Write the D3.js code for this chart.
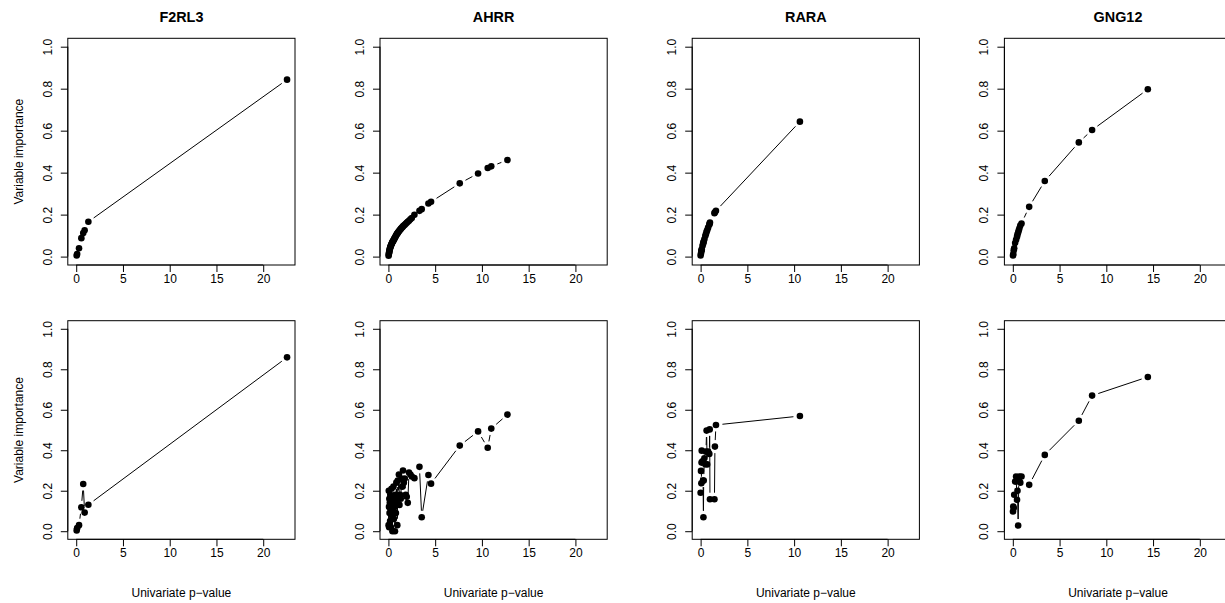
<!DOCTYPE html>
<html><head><meta charset="utf-8">
<script src="https://cdn.jsdelivr.net/npm/d3@7"></script>
<style>
body{margin:0;background:#fff;}
svg{display:block;font-family:"Liberation Sans",Arial,Helvetica,sans-serif;}
</style></head>
<body><svg id="c" width="1225" height="603"></svg>
<script>
// ---- data ----
const genes = ["F2RL3", "AHRR", "RARA", "GNG12"];
const xTicks = [0, 5, 10, 15, 20];
const yTicks = [0.0, 0.2, 0.4, 0.6, 0.8, 1.0];
const yTickLabels = ["0.0", "0.2", "0.4", "0.6", "0.8", "1.0"];
const xLabel = "Univariate p\u2212value";
const yLabel = "Variable importance";

const pF2RL3 = [0.05, 0.1, 0.3, 0.55, 0.75, 0.9, 1.3, 22.55];
const topF2RL3 = [0.005, 0.012, 0.04, 0.088, 0.112, 0.125, 0.166, 0.843];
const botF2RL3 = [0.004, 0.015, 0.03, 0.118, 0.233, 0.092, 0.131, 0.859];

const pAHRR = [0.02,0.04,0.06,0.08,0.1,0.12,0.15,0.18,0.2,0.23,0.26,0.3,0.33,0.36,0.4,0.43,0.47,0.5,0.54,0.58,0.62,0.66,0.7,0.75,0.8,0.85,0.9,0.95,1.0,1.06,1.12,1.18,1.25,1.32,1.4,1.48,1.56,1.65,1.75,1.85,1.96,2.07,2.2,2.35,2.5,2.78,3.32,3.56,4.28,4.56,7.63,9.59,10.62,11.0,12.73];
const topAHRR = [0.004,0.01,0.016,0.021,0.026,0.031,0.036,0.041,0.044,0.048,0.052,0.056,0.059,0.062,0.066,0.069,0.072,0.074,0.077,0.081,0.084,0.087,0.091,0.094,0.099,0.103,0.107,0.11,0.113,0.117,0.121,0.124,0.128,0.132,0.136,0.14,0.144,0.148,0.152,0.156,0.161,0.166,0.171,0.178,0.184,0.199,0.218,0.226,0.253,0.261,0.349,0.396,0.422,0.43,0.46];
const botAHRR = [0.03,0.2,0.12,0.02,0.16,0.09,0.14,0.05,0.18,0.11,0.02,0.15,0.21,0.08,0.13,0.0,0.17,0.1,0.22,0.06,0.15,0.12,0.0,0.18,0.09,0.24,0.14,0.03,0.25,0.17,0.28,0.13,0.18,0.16,0.26,0.22,0.3,0.24,0.26,0.18,0.17,0.14,0.29,0.28,0.27,0.262,0.318,0.069,0.278,0.235,0.423,0.493,0.412,0.507,0.576];

const pRARA = [0.0,0.04,0.08,0.1,0.12,0.2,0.26,0.3,0.33,0.4,0.5,0.57,0.64,0.7,0.8,0.93,0.97,1.0,1.48,1.53,1.64,10.62];
const topRARA = [0.005,0.015,0.025,0.03,0.035,0.05,0.06,0.067,0.072,0.083,0.098,0.108,0.118,0.125,0.138,0.152,0.158,0.162,0.207,0.211,0.218,0.643];
const botRARA = [0.19,0.298,0.237,0.339,0.398,0.345,0.25,0.069,0.25,0.36,0.331,0.393,0.497,0.33,0.393,0.382,0.503,0.158,0.158,0.418,0.525,0.569];

const pGNG12 = [0.02,0.05,0.1,0.15,0.25,0.35,0.45,0.5,0.57,0.64,0.7,0.8,0.93,1.75,3.42,7.06,8.48,14.44];
const topGNG12 = [0.005,0.012,0.03,0.04,0.065,0.08,0.095,0.105,0.115,0.125,0.135,0.148,0.158,0.237,0.36,0.544,0.603,0.797];
const botGNG12 = [0.097,0.122,0.115,0.18,0.245,0.27,0.155,0.2,0.028,0.255,0.27,0.24,0.27,0.229,0.377,0.546,0.67,0.762];

const pVals = [pF2RL3, pAHRR, pRARA, pGNG12];
const topVals = [topF2RL3, topAHRR, topRARA, topGNG12];
const botVals = [botF2RL3, botAHRR, botRARA, botGNG12];

// ---- layout ----
const svg = d3.select("#c");
const colLeft = k => 67.8 + k * 312.2;
const boxW = 227.2;
const rows = [{top: 38.3, bottom: 265.0, vals: topVals}, {top: 320.7, bottom: 539.3, vals: botVals}];
const xDomain = [-0.9, 23.4];
const yDomain = [-0.04, 1.04];
const gap = 6.5, r = 3.3;
const fontTick = 12, fontTitle = 14.4, fontLab = 12;

rows.forEach((row, ri) => {
  genes.forEach((g, k) => {
    const L = colLeft(k);
    const x = d3.scaleLinear().domain(xDomain).range([L, L + boxW]);
    const y = d3.scaleLinear().domain(yDomain).range([row.bottom, row.top]);
    const gp = svg.append("g");
    gp.append("rect").attr("x", L).attr("y", row.top).attr("width", boxW)
      .attr("height", row.bottom - row.top).attr("fill", "none").attr("stroke", "#000").attr("stroke-width", 1);
    // x axis
    const xa = d3.axisBottom(x).tickValues(xTicks).tickSize(7).tickFormat(d3.format("d"));
    const gx = gp.append("g").attr("transform", `translate(0,${row.bottom})`).call(xa);
    gx.select(".domain").attr("d", `M${x(xTicks[0])},0H${x(xTicks[xTicks.length-1])}`);
    gx.selectAll("text").attr("font-size", fontTick).attr("fill", "#000")
      .attr("dy", null).attr("y", 13.5).attr("dominant-baseline", "central");
    // y axis
    const ya = d3.axisLeft(y).tickValues(yTicks).tickSize(7).tickFormat((d, i) => yTickLabels[i]);
    const gy = gp.append("g").attr("transform", `translate(${L},0)`).call(ya);
    gy.select(".domain").attr("d", `M0,${y(yTicks[0])}V${y(yTicks[yTicks.length-1])}`);
    gy.selectAll("text").attr("font-size", fontTick).attr("fill", "#000")
      .attr("text-anchor", "middle").attr("dy", null).attr("x", 0).attr("y", 0)
      .attr("transform", "translate(-20,0) rotate(-90)")
      .attr("dominant-baseline", "central");
    gp.selectAll(".tick line").attr("stroke", "#000");
    gp.selectAll(".domain").attr("stroke", "#000");
    svg.selectAll("g text").attr("font-family", null);

    const xs = pVals[k], ys = row.vals[k];
    const pts = xs.map((v, i) => [x(v), y(ys[i])]);
    // type="b": segments with gaps around points
    const segs = [];
    for (let i = 0; i < pts.length - 1; i++) {
      const [x1, y1] = pts[i], [x2, y2] = pts[i+1];
      const dx = x2 - x1, dy = y2 - y1, len = Math.hypot(dx, dy);
      if (len > 2 * gap) {
        const ux = dx / len, uy = dy / len;
        segs.push([x1 + ux*gap, y1 + uy*gap, x2 - ux*gap, y2 - uy*gap]);
      }
    }
    gp.selectAll("line.seg").data(segs).join("line").attr("class", "seg")
      .attr("x1", d => d[0]).attr("y1", d => d[1]).attr("x2", d => d[2]).attr("y2", d => d[3])
      .attr("stroke", "#000").attr("stroke-width", 1);
    gp.selectAll("circle").data(pts).join("circle")
      .attr("cx", d => d[0]).attr("cy", d => d[1]).attr("r", r).attr("fill", "#000");

    if (ri === 0) {
      svg.append("text").attr("x", L + boxW / 2).attr("y", 17).attr("text-anchor", "middle")
        .attr("dominant-baseline", "central").attr("font-weight", "bold").attr("font-size", fontTitle).text(g);
    }
    if (ri === 1) {
      svg.append("text").attr("x", L + boxW / 2).attr("y", 593).attr("text-anchor", "middle")
        .attr("dominant-baseline", "central").attr("font-size", fontLab).text(xLabel);
    }
    if (k === 0) {
      const cy = (row.top + row.bottom) / 2;
      svg.append("text").attr("transform", `translate(18.5,${cy}) rotate(-90)`).attr("text-anchor", "middle")
        .attr("dominant-baseline", "central").attr("font-size", fontLab).text(yLabel);
    }
  });
});
</script></body></html>
